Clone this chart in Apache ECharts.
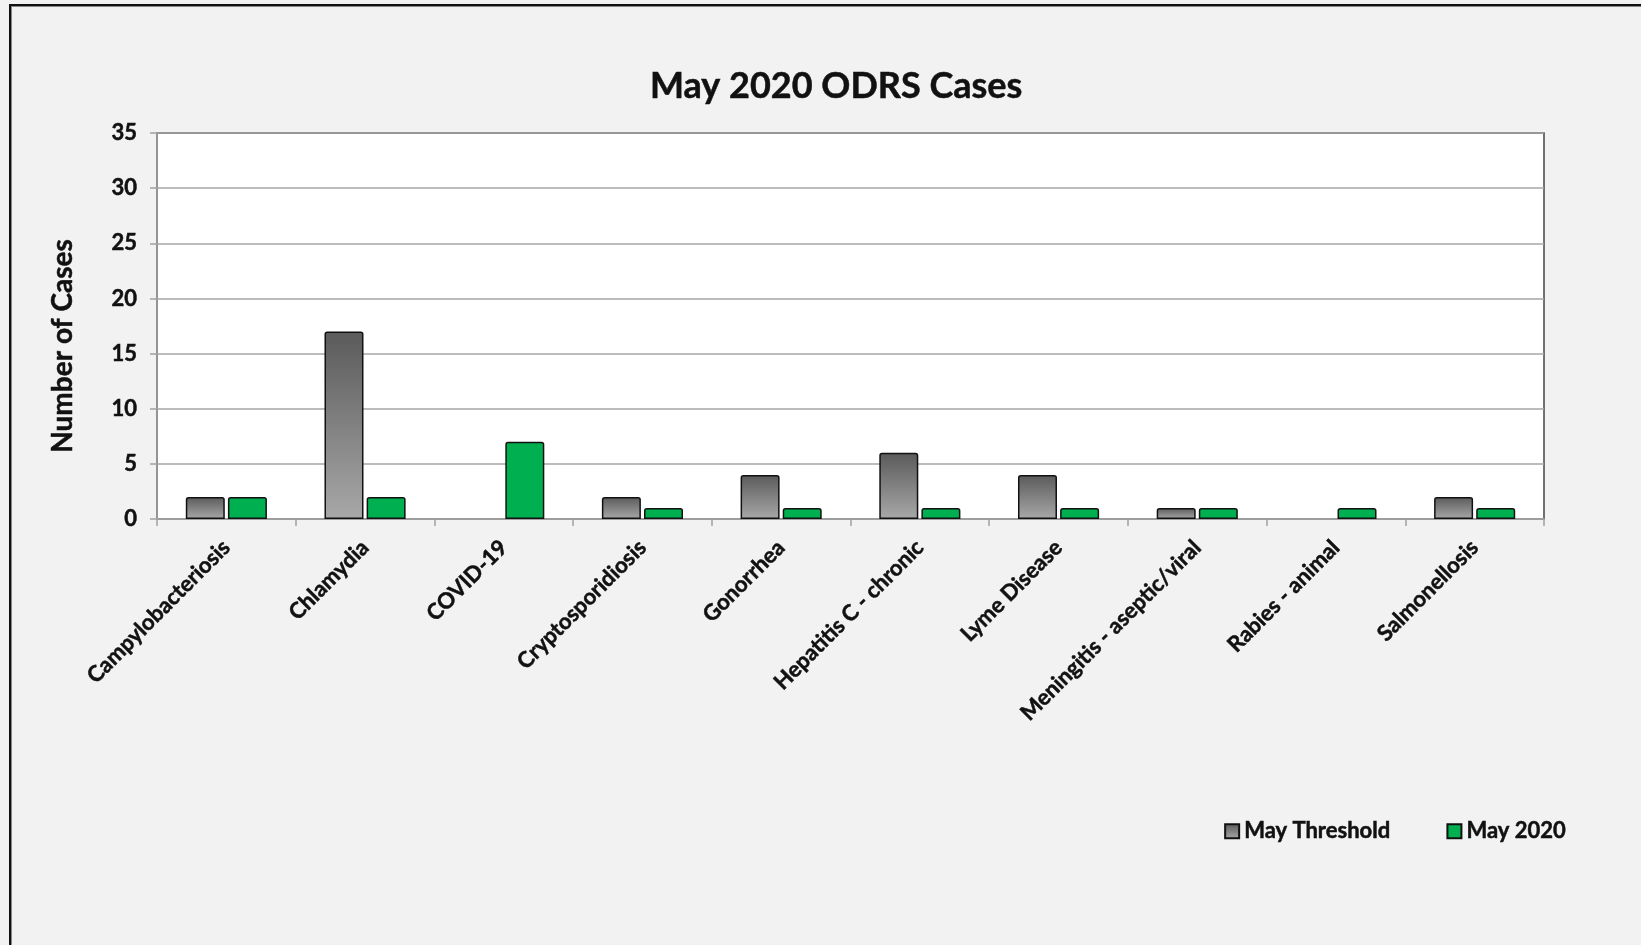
<!DOCTYPE html>
<html>
<head>
<meta charset="utf-8">
<script src="https://cdn.jsdelivr.net/npm/echarts@6/dist/echarts.min.js"></script>
<style>
html,body{margin:0;padding:0;background:#f2f2f2;}
#chart{width:1641px;height:945px;}
#frame{position:absolute;left:9px;top:4px;width:1640px;height:950px;border-top:2px solid #111;border-left:2px solid #111;box-shadow:inset 1px 1px 0 #888;pointer-events:none;}
</style>
</head>
<body>
<div id="chart"></div>
<div id="frame"></div>
<script>
const categories = ["Campylobacteriosis","Chlamydia","COVID-19","Cryptosporidiosis","Gonorrhea","Hepatitis C - chronic","Lyme Disease","Meningitis - aseptic/viral","Rabies - animal","Salmonellosis"];
const mayThreshold = [2,17,0,2,4,6,4,1,0,2];
const may2020 = [2,2,7,1,1,1,1,1,1,1];
const yTicks = {min:0,max:35,interval:5};

const font = "Lato, 'Open Sans', sans-serif";
const heavy = {textBorderColor:'#111',textBorderWidth:0.5};
const chart = echarts.init(document.getElementById('chart'));
const grayGrad = new echarts.graphic.LinearGradient(0,0,0,1,[{offset:0,color:'#5a5a5a'},{offset:1,color:'#a8a8a8'}]);
const toData = arr => arr.map(v => v === 0 ? {value:v, itemStyle:{borderWidth:0}} : v);
chart.setOption({
  backgroundColor:'#f2f2f2',
  animation:false,
  title:{text:'May 2020 ODRS Cases',left:645,top:63,
    textStyle:Object.assign({fontFamily:font,fontWeight:'bold',fontSize:36,color:'#111'},heavy)},
  legend:{right:70,top:815,itemWidth:14,itemHeight:14,itemGap:56,icon:'rect',
    textStyle:Object.assign({fontFamily:font,fontWeight:'bold',fontSize:22,color:'#111'},heavy),
    data:['May Threshold','May 2020']},
  grid:{left:157,right:97,top:133,bottom:426,show:true,backgroundColor:'#fff',borderColor:'#444',borderWidth:1.5,containLabel:false},
  xAxis:{type:'category',data:categories,
    axisLine:{lineStyle:{color:'#a0a0a0',width:1.5}},
    axisTick:{show:true,length:7,lineStyle:{color:'#a0a0a0',width:1.5}},
    axisLabel:Object.assign({rotate:45,interval:0,margin:25,fontFamily:font,fontWeight:'bold',fontSize:22,color:'#111'},heavy)},
  yAxis:{type:'value',min:yTicks.min,max:yTicks.max,interval:yTicks.interval,
    name:'Number of Cases',nameLocation:'middle',nameGap:80,
    nameTextStyle:Object.assign({fontFamily:font,fontWeight:'bold',fontSize:28,color:'#111',padding:[0,40,0,0]},heavy),
    axisLine:{show:true,lineStyle:{color:'#a0a0a0',width:1.5}},
    axisTick:{show:true,length:7,lineStyle:{color:'#a0a0a0',width:1.5}},
    splitLine:{lineStyle:{color:'#a6a6a6',width:1.5}},
    axisLabel:Object.assign({margin:20,fontFamily:font,fontWeight:'bold',fontSize:22,color:'#111'},heavy)},
  series:[
    {name:'May Threshold',type:'bar',data:toData(mayThreshold),barWidth:39,barGap:'8%',
      itemStyle:{color:grayGrad,borderColor:'#111',borderWidth:1.5,borderRadius:[2,2,0,0]}},
    {name:'May 2020',type:'bar',data:toData(may2020),barWidth:39,
      itemStyle:{color:'#00b050',borderColor:'#111',borderWidth:1.5,borderRadius:[2,2,0,0]}}
  ]
});
</script>
</body>
</html>
